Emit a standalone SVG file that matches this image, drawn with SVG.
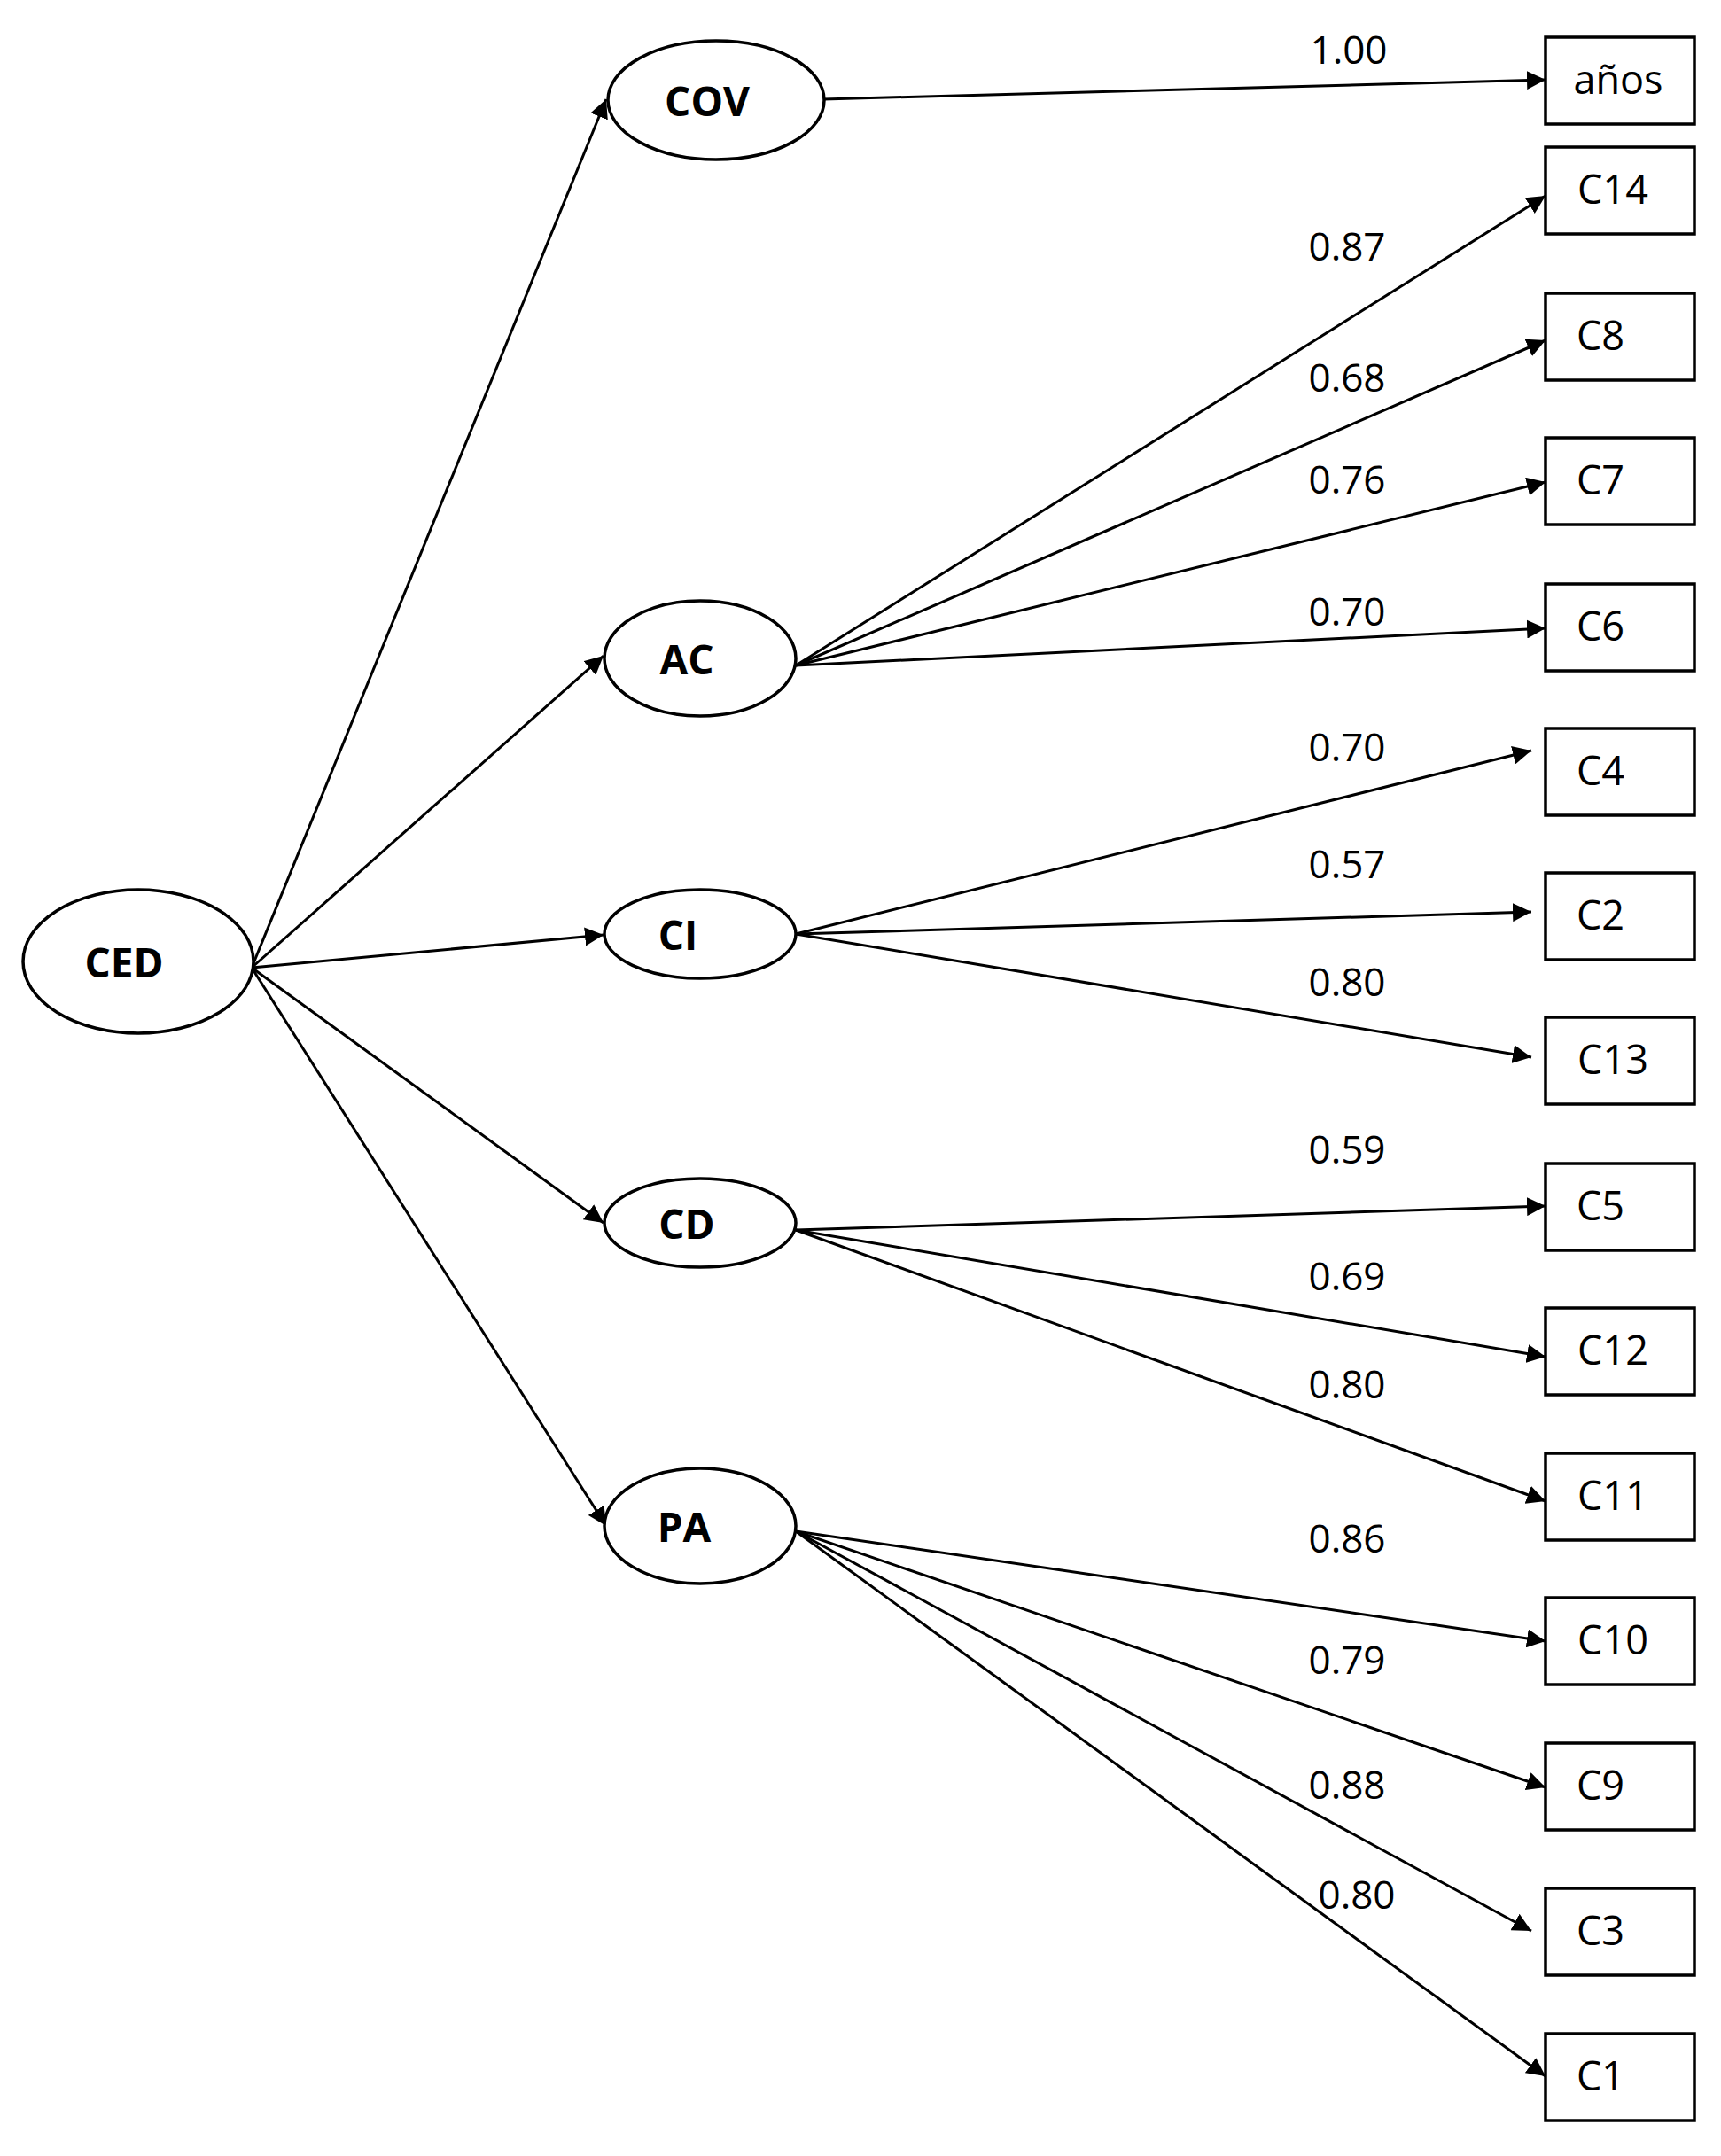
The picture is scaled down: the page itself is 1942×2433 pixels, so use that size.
<svg xmlns="http://www.w3.org/2000/svg" width="1942" height="2433" viewBox="0 0 1942 2433">
<style>
.n ellipse,.b rect{fill:#fff;stroke:#000;stroke-width:3.5}
.n text{font-family:"Open Sans","Liberation Sans",sans-serif;font-weight:bold;font-size:46px;text-anchor:middle;dominant-baseline:central}
.b text{font-family:"Open Sans","Liberation Sans",sans-serif;font-size:45px;text-anchor:middle;dominant-baseline:central}
.e line{stroke:#000;stroke-width:3;marker-end:url(#a)}
.l{font-family:"Open Sans","Liberation Sans",sans-serif;font-size:44px;text-anchor:middle;dominant-baseline:central}
</style>
<defs><marker id="a" viewBox="0 0 10 10" refX="10" refY="5" markerWidth="7" markerHeight="7" markerUnits="strokeWidth" orient="auto"><path d="M0,0L10,5L0,10z"/></marker></defs>
<rect width="1942" height="2433" fill="#fff"/>
<g class="e">
<line x1="284" y1="1092" x2="684" y2="112"/>
<line x1="284" y1="1092" x2="681" y2="740"/>
<line x1="284" y1="1092" x2="681" y2="1055"/>
<line x1="284" y1="1092" x2="681" y2="1380"/>
<line x1="284" y1="1092" x2="684" y2="1722"/>
<line x1="929" y1="112" x2="1744" y2="90"/>
<line x1="898" y1="751" x2="1744" y2="221"/>
<line x1="898" y1="751" x2="1744" y2="384"/>
<line x1="898" y1="751" x2="1744" y2="544"/>
<line x1="898" y1="751" x2="1744" y2="709"/>
<line x1="898" y1="1054" x2="1728" y2="847"/>
<line x1="898" y1="1054" x2="1728" y2="1029"/>
<line x1="898" y1="1054" x2="1728" y2="1193"/>
<line x1="898" y1="1388" x2="1744" y2="1361"/>
<line x1="898" y1="1388" x2="1744" y2="1531"/>
<line x1="898" y1="1388" x2="1744" y2="1694"/>
<line x1="898" y1="1728" x2="1744" y2="1852"/>
<line x1="898" y1="1728" x2="1744" y2="2017"/>
<line x1="898" y1="1728" x2="1728" y2="2179"/>
<line x1="898" y1="1728" x2="1744" y2="2343"/>
</g>
<g id="labels">
<text class="l" x="1522" y="55">1.00</text>
<text class="l" x="1520" y="277">0.87</text>
<text class="l" x="1520" y="425">0.68</text>
<text class="l" x="1520" y="540">0.76</text>
<text class="l" x="1520" y="689">0.70</text>
<text class="l" x="1520" y="842">0.70</text>
<text class="l" x="1520" y="974">0.57</text>
<text class="l" x="1520" y="1107">0.80</text>
<text class="l" x="1520" y="1296">0.59</text>
<text class="l" x="1520" y="1439">0.69</text>
<text class="l" x="1520" y="1561">0.80</text>
<text class="l" x="1520" y="1735">0.86</text>
<text class="l" x="1520" y="1872">0.79</text>
<text class="l" x="1520" y="2013">0.88</text>
<text class="l" x="1531" y="2137">0.80</text>
</g>
<g id="CED" class="n"><ellipse cx="156" cy="1085" rx="130" ry="81"/><text x="140" y="1085">CED</text></g>
<g id="COV" class="n"><ellipse cx="808" cy="113" rx="122" ry="67"/><text x="798" y="113">COV</text></g>
<g id="AC" class="n"><ellipse cx="790" cy="743" rx="108" ry="65"/><text x="775" y="743">AC</text></g>
<g id="CI" class="n"><ellipse cx="790" cy="1054" rx="108" ry="50"/><text x="765" y="1054">CI</text></g>
<g id="CD" class="n"><ellipse cx="790" cy="1380" rx="108" ry="50"/><text x="775" y="1380">CD</text></g>
<g id="PA" class="n"><ellipse cx="790" cy="1722" rx="108" ry="65"/><text x="772" y="1722">PA</text></g>
<g id="anos" class="b"><rect x="1744" y="42" width="168" height="98"/><text x="1826" y="88">años</text></g>
<g id="C14" class="b"><rect x="1744" y="166" width="168" height="98"/><text x="1820" y="212">C14</text></g>
<g id="C8" class="b"><rect x="1744" y="331" width="168" height="98"/><text x="1806" y="377">C8</text></g>
<g id="C7" class="b"><rect x="1744" y="494" width="168" height="98"/><text x="1806" y="540">C7</text></g>
<g id="C6" class="b"><rect x="1744" y="659" width="168" height="98"/><text x="1806" y="705">C6</text></g>
<g id="C4" class="b"><rect x="1744" y="822" width="168" height="98"/><text x="1806" y="868">C4</text></g>
<g id="C2" class="b"><rect x="1744" y="985" width="168" height="98"/><text x="1806" y="1031">C2</text></g>
<g id="C13" class="b"><rect x="1744" y="1148" width="168" height="98"/><text x="1820" y="1194">C13</text></g>
<g id="C5" class="b"><rect x="1744" y="1313" width="168" height="98"/><text x="1806" y="1359">C5</text></g>
<g id="C12" class="b"><rect x="1744" y="1476" width="168" height="98"/><text x="1820" y="1522">C12</text></g>
<g id="C11" class="b"><rect x="1744" y="1640" width="168" height="98"/><text x="1820" y="1686">C11</text></g>
<g id="C10" class="b"><rect x="1744" y="1803" width="168" height="98"/><text x="1820" y="1849">C10</text></g>
<g id="C9" class="b"><rect x="1744" y="1967" width="168" height="98"/><text x="1806" y="2013">C9</text></g>
<g id="C3" class="b"><rect x="1744" y="2131" width="168" height="98"/><text x="1806" y="2177">C3</text></g>
<g id="C1" class="b"><rect x="1744" y="2295" width="168" height="98"/><text x="1806" y="2341">C1</text></g>
</svg>
